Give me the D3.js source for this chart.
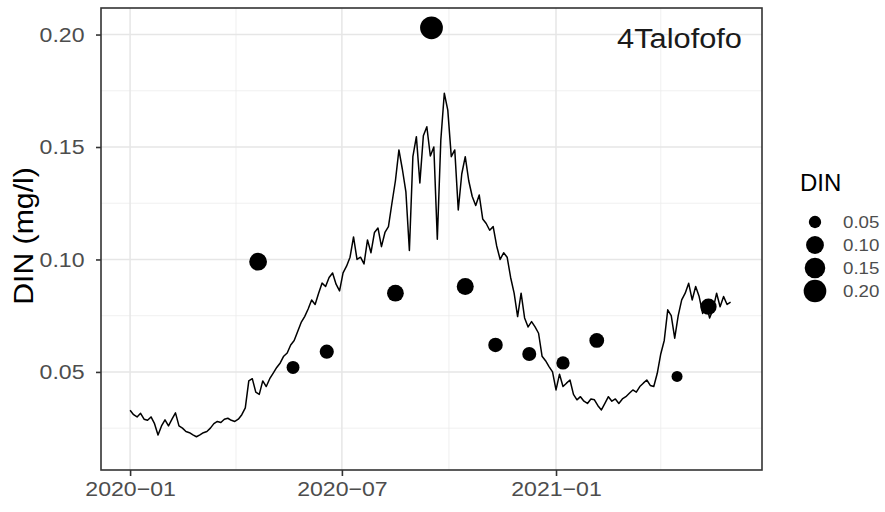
<!DOCTYPE html>
<html>
<head>
<meta charset="utf-8">
<script src="https://cdn.jsdelivr.net/npm/d3@7"></script>
<style>
  html, body { margin: 0; padding: 0; background: #ffffff; }
  svg { display: block; font-family: "Liberation Sans", Arial, sans-serif; }
</style>
</head>
<body>
<svg id="chart" width="885" height="512"></svg>
<script>
// ---------------- data ----------------
const siteName = "4Talofofo";
const yTitle = "DIN (mg/l)";
const legendTitle = "DIN";

// continuous (modelled) DIN series, one value every 3 days starting 2020-01-01
const lineStart = "2020-01-01";
const lineStepDays = 3;
const lineValues = [
  0.033, 0.031, 0.030, 0.0316, 0.029, 0.0285, 0.030, 0.027, 0.022, 0.026,
  0.0287, 0.026, 0.029, 0.0318, 0.026, 0.025, 0.0235, 0.023, 0.022, 0.0212,
  0.022, 0.023, 0.0235, 0.025, 0.027, 0.028, 0.0275, 0.029, 0.0294, 0.0285,
  0.028, 0.029, 0.031, 0.034, 0.046, 0.047, 0.041, 0.040, 0.046, 0.0435,
  0.047, 0.0495, 0.052, 0.054, 0.057, 0.0584, 0.062, 0.064, 0.068, 0.072,
  0.0746, 0.078, 0.082, 0.080, 0.085, 0.0895, 0.088, 0.092, 0.094, 0.089,
  0.086, 0.094, 0.097, 0.101, 0.110, 0.100, 0.101, 0.098, 0.1087, 0.103,
  0.112, 0.114, 0.1057, 0.112, 0.1146, 0.125, 0.135, 0.1487, 0.140, 0.130,
  0.104, 0.1457, 0.1546, 0.134, 0.155, 0.159, 0.146, 0.150, 0.109, 0.153,
  0.1739, 0.1664, 0.1457, 0.1487, 0.122, 0.138, 0.1457, 0.135, 0.128, 0.124,
  0.1287, 0.118, 0.116, 0.113, 0.1146, 0.106, 0.100, 0.103, 0.101, 0.092,
  0.085, 0.0746, 0.085, 0.074, 0.070, 0.0724, 0.070, 0.0672, 0.057, 0.055,
  0.0524, 0.050, 0.042, 0.049, 0.0435, 0.045, 0.0464, 0.040, 0.0376, 0.039,
  0.037, 0.036, 0.038, 0.0376, 0.035, 0.0331, 0.036, 0.039, 0.037, 0.038,
  0.036, 0.038, 0.039, 0.0405, 0.042, 0.041, 0.0435, 0.045, 0.0464, 0.044,
  0.0435, 0.0494, 0.058, 0.064, 0.0776, 0.075, 0.065, 0.075, 0.082, 0.085,
  0.0894, 0.082, 0.088, 0.0835, 0.076, 0.080, 0.074, 0.078, 0.085, 0.079,
  0.0835, 0.080, 0.081
];

// observed samples
const sampleDates = [
  "2020-04-20", "2020-05-20", "2020-06-18", "2020-08-16", "2020-09-16", "2020-10-15",
  "2020-11-10", "2020-12-09", "2021-01-07", "2021-02-05", "2021-04-15", "2021-05-12"
];
const sampleValues = [
  0.099, 0.052, 0.059, 0.085, 0.203, 0.088,
  0.062, 0.058, 0.054, 0.064, 0.048, 0.079
];

const yTicks = [0.05, 0.10, 0.15, 0.20];
const yMinorTicks = [0.025, 0.075, 0.125, 0.175];
const xTickLabels = ["2020-01", "2020-07", "2021-01"];
const xMinorTickLabels = ["2020-04", "2020-10", "2021-04"];
const legendValues = [0.05, 0.10, 0.15, 0.20];

// ---------------- layout ----------------
const W = 885, H = 512;
const panel = { left: 101, right: 762, top: 8, bottom: 470 };
const stretch = 1.1; // rendered glyphs in the reference are slightly wide

const svg = d3.select("#chart");
const parse = d3.utcParse("%Y-%m-%d");
const parseMonth = d3.utcParse("%Y-%m");

const x = d3.scaleUtc()
  .domain([Date.UTC(2019, 11, 7), Date.UTC(2021, 5, 27)])
  .range([panel.left, panel.right]);
const y = d3.scaleLinear()
  .domain([0.0064, 0.2118])
  .range([panel.bottom, panel.top]);

const sMin = d3.min(sampleValues), sMax = d3.max(sampleValues);
const rUnit = d3.scaleLinear().domain([0, 1]).range([5.5, 11.4]);
const r = v => rUnit(Math.sqrt(Math.max(0, (v - sMin) / (sMax - sMin))));

const startDate = parse(lineStart);
const lineData = lineValues.map((v, i) => ({ date: d3.utcDay.offset(startDate, i * lineStepDays), value: v }));
const samples = sampleDates.map((d, i) => ({ date: parse(d), value: sampleValues[i] }));

// panel background
svg.append("rect")
  .attr("x", panel.left).attr("y", panel.top)
  .attr("width", panel.right - panel.left).attr("height", panel.bottom - panel.top)
  .attr("fill", "#ffffff");

// grid
const grid = svg.append("g");
grid.selectAll(".ymin").data(yMinorTicks).join("line")
  .attr("x1", panel.left).attr("x2", panel.right)
  .attr("y1", d => y(d)).attr("y2", d => y(d))
  .attr("stroke", "#ececec").attr("stroke-width", 0.8);
grid.selectAll(".xmin").data(xMinorTickLabels).join("line")
  .attr("y1", panel.top).attr("y2", panel.bottom)
  .attr("x1", d => x(parseMonth(d))).attr("x2", d => x(parseMonth(d)))
  .attr("stroke", "#ececec").attr("stroke-width", 0.8);
grid.selectAll(".ymaj").data(yTicks).join("line")
  .attr("x1", panel.left).attr("x2", panel.right)
  .attr("y1", d => y(d)).attr("y2", d => y(d))
  .attr("stroke", "#e6e6e6").attr("stroke-width", 1.5);
grid.selectAll(".xmaj").data(xTickLabels).join("line")
  .attr("y1", panel.top).attr("y2", panel.bottom)
  .attr("x1", d => x(parseMonth(d))).attr("x2", d => x(parseMonth(d)))
  .attr("stroke", "#e6e6e6").attr("stroke-width", 1.5);

// points (drawn beneath the line, as in the reference)
svg.append("g").selectAll("circle").data(samples).join("circle")
  .attr("cx", d => x(d.date))
  .attr("cy", d => y(d.value))
  .attr("r", d => r(d.value))
  .attr("fill", "#000000");

// line
const lineGen = d3.line().x(d => x(d.date)).y(d => y(d.value));
svg.append("path")
  .datum(lineData)
  .attr("d", lineGen)
  .attr("fill", "none")
  .attr("stroke", "#000000")
  .attr("stroke-width", 1.5)
  .attr("stroke-linejoin", "round");

// panel border
svg.append("rect")
  .attr("x", panel.left).attr("y", panel.top)
  .attr("width", panel.right - panel.left).attr("height", panel.bottom - panel.top)
  .attr("fill", "none").attr("stroke", "#333333").attr("stroke-width", 1.6);

// axes
const yAxis = d3.axisLeft(y).tickValues(yTicks).tickFormat(d3.format(".2f")).tickSize(5).tickPadding(10);
const gy = svg.append("g").attr("transform", `translate(${panel.left},0)`).call(yAxis);
gy.select(".domain").remove();
gy.selectAll(".tick line").attr("stroke", "#333333").attr("stroke-width", 1.6);
gy.selectAll(".tick text")
  .attr("fill", "#4d4d4d").style("font-size", "21px")
  .attr("transform", `scale(${stretch},1)`);

const xAxis = d3.axisBottom(x).tickValues(xTickLabels.map(parseMonth))
  .tickFormat(d => d3.utcFormat("%Y")(d) + "\u2212" + d3.utcFormat("%m")(d))
  .tickSize(6).tickPadding(5);
const gx = svg.append("g").attr("transform", `translate(0,${panel.bottom})`).call(xAxis);
gx.select(".domain").remove();
gx.selectAll(".tick line").attr("stroke", "#333333").attr("stroke-width", 1.6);
gx.selectAll(".tick text")
  .attr("fill", "#4d4d4d").style("font-size", "21px")
  .attr("transform", `scale(${stretch},1)`);

// y title
svg.append("text")
  .attr("transform", `translate(33,236) rotate(-90) scale(1.12,1)`)
  .attr("text-anchor", "middle")
  .style("font-size", "27px")
  .attr("fill", "#000000")
  .text(yTitle);

// site label
svg.append("text")
  .attr("transform", `translate(742,48) scale(${stretch},1)`)
  .attr("text-anchor", "end")
  .style("font-size", "28px")
  .attr("fill", "#1a1a1a")
  .text(siteName);

// legend
const lg = svg.append("g");
lg.append("text")
  .attr("transform", `translate(800,191)`)
  .style("font-size", "24px")
  .attr("fill", "#000000")
  .text(legendTitle);
const legendY = d3.scalePoint().domain(legendValues).range([222, 291]);
lg.selectAll("circle").data(legendValues).join("circle")
  .attr("cx", 815).attr("cy", d => legendY(d)).attr("r", d => r(d))
  .attr("fill", "#000000");
lg.selectAll(".lab").data(legendValues).join("text")
  .attr("transform", d => `translate(843,${legendY(d) + 6}) scale(${stretch},1)`)
  .style("font-size", "17px")
  .attr("fill", "#4d4d4d")
  .text(d => d3.format(".2f")(d));
</script>
</body>
</html>
